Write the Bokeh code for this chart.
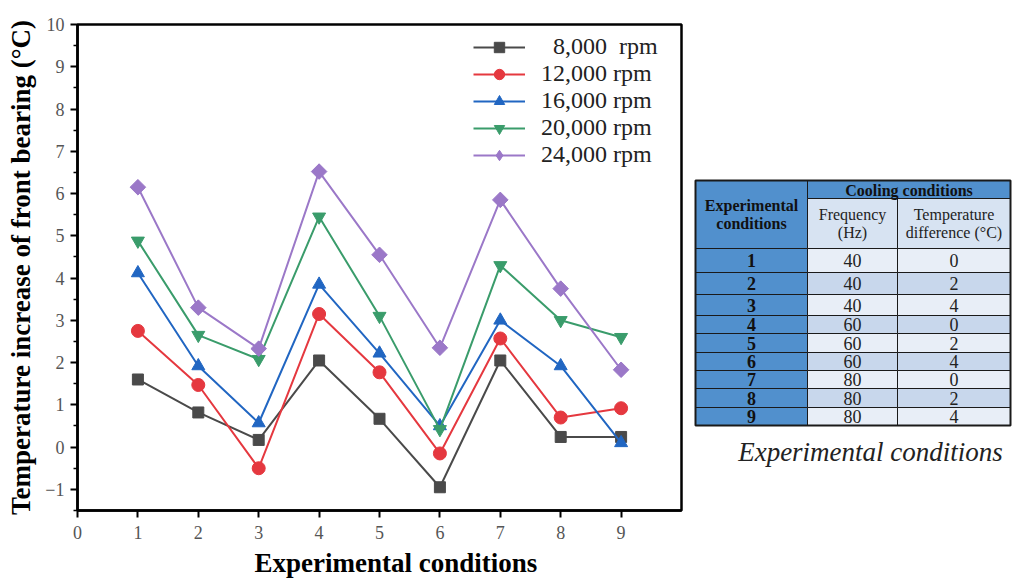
import math
from bokeh.plotting import figure
from bokeh.models import Range1d, FixedTicker, Legend, LegendItem, Title
from bokeh.layouts import row
from bokeh.core.properties import value
from bokeh.embed import file_html
from bokeh.resources import INLINE

# ---------------- data ----------------
conditions = [1, 2, 3, 4, 5, 6, 7, 8, 9]
rpm_8000 = [1.60, 0.82, 0.17, 2.05, 0.67, -0.95, 2.05, 0.24, 0.24]
rpm_12000 = [2.75, 1.47, -0.50, 3.15, 1.77, -0.15, 2.57, 0.70, 0.92]
rpm_16000 = [4.12, 1.92, 0.57, 3.85, 2.22, 0.50, 3.00, 1.92, 0.10]
rpm_20000 = [4.88, 2.65, 2.08, 5.45, 3.10, 0.42, 4.30, 3.00, 2.60]
rpm_24000 = [6.15, 3.30, 2.33, 6.52, 4.55, 2.35, 5.85, 3.75, 1.83]
series_labels = ["\u20078,000\u00a0\u00a0rpm", "12,000 rpm", "16,000 rpm", "20,000 rpm", "24,000 rpm"]
x_ticks = [0, 1, 2, 3, 4, 5, 6, 7, 8, 9]
y_ticks = [-1, 0, 1, 2, 3, 4, 5, 6, 7, 8, 9, 10]

table_conditions = ["1", "2", "3", "4", "5", "6", "7", "8", "9"]
table_frequency = ["40", "40", "40", "60", "60", "60", "80", "80", "80"]
table_temp_diff = ["0", "2", "4", "0", "2", "4", "0", "2", "4"]

SERIF = "Liberation Serif"
TOP, BOTTOM = 24, 510

# ---------------- line chart ----------------
p = figure(width=690, height=583, x_range=Range1d(0, 10), y_range=Range1d(-1.5, 10),
           output_backend="svg", toolbar_location=None,
           min_border_left=77, min_border_right=9, min_border_top=TOP,
           min_border_bottom=583 - BOTTOM)
p.grid.visible = False
p.outline_line_color = "black"
p.outline_line_width = 2.5
p.background_fill_color = "white"
p.border_fill_color = "white"

p.xaxis.ticker = FixedTicker(ticks=x_ticks, minor_ticks=[])
p.yaxis.ticker = FixedTicker(ticks=y_ticks, minor_ticks=[k + 0.5 for k in range(-2, 10)])
p.yaxis.major_label_overrides = {-1: "\u22121"}
for ax in (p.xaxis[0], p.yaxis[0]):
    ax.axis_line_width = 2.5
    ax.axis_line_color = "black"
    ax.major_tick_line_width = 2
    ax.minor_tick_line_width = 1.5
    ax.major_tick_out = 7
    ax.major_tick_in = 0
    ax.minor_tick_out = 4
    ax.minor_tick_in = 0
    ax.major_label_text_font = SERIF
    ax.major_label_text_font_size = "18px"
    ax.major_label_text_color = "#555555"
    ax.axis_label_text_font = SERIF
    ax.axis_label_text_font_style = "bold"
    ax.axis_label_text_font_size = "27px"
    ax.axis_label_text_color = "black"

p.yaxis.axis_label = "Temperature increase of front bearing (\u00b0C)"
p.xaxis.major_label_standoff = 8
p.yaxis.major_label_standoff = 6
p.yaxis.axis_label_standoff = 6

xlabel = Title(text="Experimental conditions", align="left", offset=177, standoff=9,
               text_font=SERIF, text_font_style="bold", text_font_size="27px",
               text_color="black")
p.add_layout(xlabel, "below")

series = [rpm_8000, rpm_12000, rpm_16000, rpm_20000, rpm_24000]
colors = ["#4a4a4a", "#e5383f", "#2166c2", "#3a9c6b", "#9b78c8"]
markers = ["square", "circle", "triangle", "inverted_triangle", "diamond"]
sizes = [11, 13, 13, 13, 14]

items = []
for vals, col, mk, sz, lab in zip(series, colors, markers, sizes, series_labels):
    ln = p.line(conditions, vals, line_color=col, line_width=2)
    sc = p.scatter(conditions, vals, marker=mk, size=sz, fill_color=col, line_color=col)
    if mk == "diamond":
        # rotated square drawn over the diamond so the plotted points look like the
        # reference's square diamonds (the legend keeps the diamond shape)
        p.scatter(conditions, vals, marker="square", size=11, angle=math.pi / 4,
                  fill_color=col, line_color=col)
    items.append(LegendItem(label=lab, renderers=[ln, sc]))

legend = Legend(items=items, location=(396, 342))
legend.border_line_color = None
legend.background_fill_alpha = 0
legend.padding = 0
legend.margin = 0
legend.spacing = 0
legend.glyph_width = 52
legend.glyph_height = 26
legend.label_height = 26
legend.label_standoff = 16
legend.label_text_font = SERIF
legend.label_text_font_size = "24px"
legend.label_text_color = "#222222"
p.add_layout(legend)

# ---------------- table ----------------
t = figure(width=322, height=583, x_range=Range1d(690, 1012), y_range=Range1d(BOTTOM, TOP),
           output_backend="svg", toolbar_location=None, min_border_left=0, min_border_right=0,
           min_border_top=TOP, min_border_bottom=583 - BOTTOM)
t.axis.visible = False
t.grid.visible = False
t.outline_line_color = None
t.background_fill_color = "white"
t.border_fill_color = "white"

col_edges = [695, 807, 897, 1010]
head_top, head_mid, head_bot = 180, 198, 248
row_edges = [248, 272, 294, 315, 333, 352, 370, 388, 407, 425]

blue = "#5190cd"
sub_blue = "#d7e3f2"
light = "#e8eef7"
dark = "#c8d7ec"

# header cells
t.quad(left=[col_edges[0], col_edges[1], col_edges[1], col_edges[2]],
       right=[col_edges[1], col_edges[3], col_edges[2], col_edges[3]],
       top=[head_top, head_top, head_mid, head_mid],
       bottom=[head_bot, head_mid, head_bot, head_bot],
       fill_color=[blue, blue, sub_blue, sub_blue], line_color="#1a1a1a", line_width=1)

n = len(table_conditions)
tops = row_edges[:-1]
bots = row_edges[1:]
row_fill = [light if i % 2 == 0 else dark for i in range(n)]
t.quad(left=[col_edges[0]] * n, right=[col_edges[1]] * n, top=tops, bottom=bots,
       fill_color=blue, line_color="#1a1a1a", line_width=1)
t.quad(left=[col_edges[1]] * n, right=[col_edges[2]] * n, top=tops, bottom=bots,
       fill_color=row_fill, line_color="#1a1a1a", line_width=1)
t.quad(left=[col_edges[2]] * n, right=[col_edges[3]] * n, top=tops, bottom=bots,
       fill_color=row_fill, line_color="#1a1a1a", line_width=1)

# outer border
t.quad(left=[col_edges[0]], right=[col_edges[3]], top=[head_top], bottom=[row_edges[-1]],
       fill_alpha=0, line_color="#1a1a1a", line_width=2)

cx = [(col_edges[i] + col_edges[i + 1]) / 2 for i in range(3)]
mids = [(a + b) / 2 for a, b in zip(tops, bots)]

t.text(x=[cx[0]], y=[(head_top + head_bot) / 2], text=["Experimental\nconditions"],
       text_font=value(SERIF), text_font_style="bold", text_font_size="16px",
       text_align="center", text_baseline="middle", text_color="#111111", text_line_height=1.1)
t.text(x=[(col_edges[1] + col_edges[3]) / 2], y=[(head_top + head_mid) / 2 + 1],
       text=["Cooling conditions"], text_font=value(SERIF), text_font_style="bold",
       text_font_size="16px", text_align="center", text_baseline="middle", text_color="#111111")
t.text(x=[cx[1], cx[2]], y=[(head_mid + head_bot) / 2] * 2,
       text=["Frequency\n(Hz)", "Temperature\ndifference (\u00b0C)"], text_font=value(SERIF),
       text_font_size="16px", text_align="center", text_baseline="middle", text_color="#222222",
       text_line_height=1.1)

t.text(x=[cx[0]] * n, y=mids, text=table_conditions, text_font=value(SERIF),
       text_font_style="bold", text_font_size="18px", text_align="center",
       text_baseline="middle", text_color="#111111")
t.text(x=[cx[1]] * n, y=mids, text=table_frequency, text_font=value(SERIF),
       text_font_size="18px", text_align="center", text_baseline="middle", text_color="#222222")
t.text(x=[cx[2]] * n, y=mids, text=table_temp_diff, text_font=value(SERIF),
       text_font_size="18px", text_align="center", text_baseline="middle", text_color="#222222")

t.text(x=[870], y=[451], text=["Experimental conditions"], text_font=value(SERIF),
       text_font_style="italic", text_font_size="27px", text_align="center",
       text_baseline="middle", text_color="#222222")

layout = row(p, t, spacing=0)
open("out.html", "w").write(file_html(layout, INLINE))
